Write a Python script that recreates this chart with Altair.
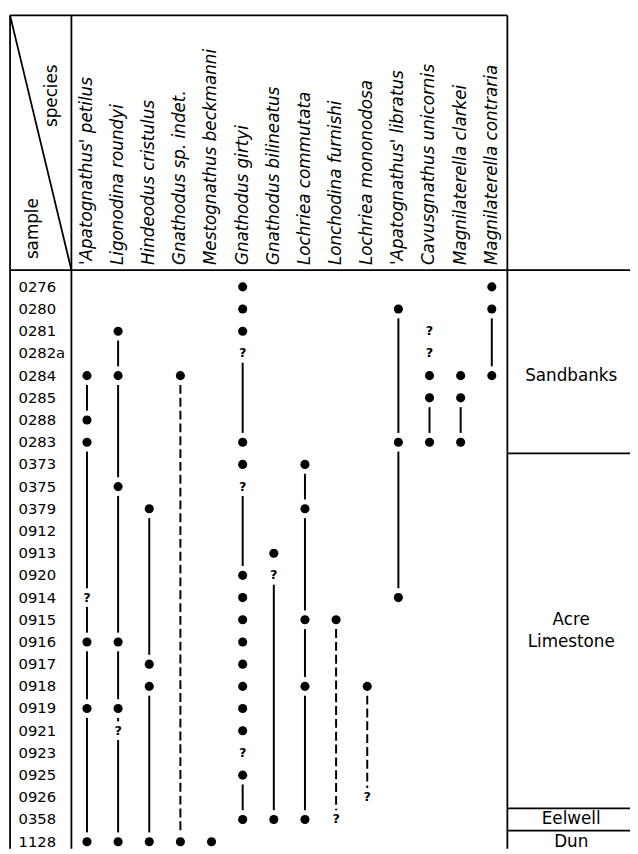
import altair as alt
import pandas as pd

# ---------------- data ----------------
samples = ["0276", "0280", "0281", "0282a", "0284", "0285", "0288", "0283",
           "0373", "0375", "0379", "0912", "0913", "0920", "0914", "0915",
           "0916", "0917", "0918", "0919", "0921", "0923", "0925", "0926",
           "0358", "1128"]

species = ["'Apatognathus' petilus", "Ligonodina roundyi", "Hindeodus cristulus",
           "Gnathodus sp. indet.", "Mestognathus beckmanni", "Gnathodus girtyi",
           "Gnathodus bilineatus", "Lochriea commutata", "Lonchodina furnishi",
           "Lochriea mononodosa", "'Apatognathus' libratus", "Cavusgnathus unicornis",
           "Magnilaterella clarkei", "Magnilaterella contraria"]

# occurrences (filled dots), one list per species
dots = [
    ["0284", "0288", "0283", "0916", "0919", "1128"],
    ["0281", "0284", "0375", "0916", "0919", "1128"],
    ["0379", "0917", "0918", "1128"],
    ["0284", "1128"],
    ["1128"],
    ["0276", "0280", "0281", "0283", "0373", "0920", "0914", "0915", "0916",
     "0917", "0918", "0919", "0921", "0925", "0358"],
    ["0913", "0358"],
    ["0373", "0379", "0915", "0918", "0358"],
    ["0915"],
    ["0918"],
    ["0280", "0283", "0914"],
    ["0284", "0285", "0283"],
    ["0284", "0285", "0283"],
    ["0276", "0280", "0284"],
]

# questionable occurrences ("?"), one list per species
queries = [
    ["0914"], ["0921"], [], [], [], ["0282a", "0375", "0923"], ["0920"], [],
    ["0358"], ["0926"], [], ["0281", "0282a"], [], [],
]

# range segments: species index, from sample, to sample, dashed?
range_species = [0, 0, 0, 0, 0,
                 1, 1, 1, 1, 1, 1,
                 2, 2,
                 3,
                 5, 5, 5,
                 6,
                 7, 7, 7, 7,
                 8,
                 9,
                 10, 10,
                 11,
                 12,
                 13]
range_from = ["0284", "0283", "0914", "0916", "0919",
              "0281", "0284", "0375", "0916", "0919", "0921",
              "0379", "0918",
              "0284",
              "0282a", "0375", "0925",
              "0920",
              "0373", "0379", "0915", "0918",
              "0915",
              "0918",
              "0280", "0283",
              "0285",
              "0285",
              "0280"]
range_to = ["0288", "0914", "0916", "0919", "1128",
            "0284", "0375", "0916", "0919", "0921", "1128",
            "0917", "1128",
            "1128",
            "0283", "0920", "0358",
            "0358",
            "0379", "0915", "0918", "0358",
            "0358",
            "0926",
            "0283", "0914",
            "0283",
            "0283",
            "0284"]
range_dashed = [False] * 13 + [True] + [False] * 8 + [True, True] + [False] * 5

formations = ["Sandbanks", "Acre\nLimestone", "Eelwell", "Dun"]
formation_first = ["0276", "0373", "0358", "1128"]
formation_label_at = ["0284", "0915", "0358", "1128"]

# ---------------- tables ----------------
row = {s: i for i, s in enumerate(samples)}
GAP = 0.42

dot_df = pd.DataFrame([{"sp": i, "row": row[s]} for i, lst in enumerate(dots) for s in lst])
q_df = pd.DataFrame([{"sp": i, "row": row[s], "t": "?"} for i, lst in enumerate(queries) for s in lst])
rng_df = pd.DataFrame({
    "sp": range_species,
    "y1": [row[a] + GAP for a in range_from],
    "y2": [row[b] - GAP for b in range_to],
    "dashed": range_dashed,
})
sample_df = pd.DataFrame({"row": list(range(len(samples))), "label": samples})
species_df = pd.DataFrame({"sp": list(range(len(species))), "name": species})
form_df = pd.DataFrame({"label": formations, "row": [row[s] for s in formation_label_at]})

# table frame (in column / row units)
X_LEFT, X_SAMPLE_R, X_SPECIES_R, X_EDGE = -2.47, -0.5, len(species) - 0.5, 17.438
Y_TOP, Y_HEAD, Y_BOTTOM = -12.23, -0.756, 25.311
frame = [
    (X_LEFT, Y_TOP, X_SPECIES_R, Y_TOP),
    (X_LEFT, Y_HEAD, X_EDGE, Y_HEAD),
    (X_LEFT, Y_TOP, X_LEFT, Y_BOTTOM),
    (X_SAMPLE_R, Y_TOP, X_SAMPLE_R, Y_BOTTOM),
    (X_SPECIES_R, Y_TOP, X_SPECIES_R, Y_BOTTOM),
    (X_LEFT, Y_TOP, X_SAMPLE_R, Y_HEAD),
] + [(X_SPECIES_R, row[s] - 0.5, X_EDGE, row[s] - 0.5) for s in formation_first[1:]]
frame_df = pd.DataFrame(frame, columns=["x", "y", "x2", "y2"])

# ---------------- chart ----------------
xs = alt.Scale(domain=[-2.536, 17.438], nice=False, zero=False)
ys = alt.Scale(domain=[-12.322, 25.311], nice=False, zero=False, reverse=True)
FONT = "DejaVu Sans"


def X(f):
    return alt.X(f, type="quantitative", scale=xs, axis=None)


def Y(f):
    return alt.Y(f, type="quantitative", scale=ys, axis=None)


frame_layer = alt.Chart(frame_df).mark_rule(color="black", strokeWidth=1.8).encode(
    x=X("x"), y=Y("y"), x2="x2", y2="y2")

solid = alt.Chart(rng_df).transform_filter("!datum.dashed").mark_rule(
    color="black", strokeWidth=2).encode(x=X("sp"), y=Y("y1"), y2="y2")
dashed = alt.Chart(rng_df).transform_filter("datum.dashed").mark_rule(
    color="black", strokeWidth=2, strokeDash=[9, 4]).encode(x=X("sp"), y=Y("y1"), y2="y2")

dot_layer = alt.Chart(dot_df).mark_circle(color="black", size=85, opacity=1).encode(
    x=X("sp"), y=Y("row"))

q_layer = alt.Chart(q_df).mark_text(font=FONT, fontSize=13, fontWeight="bold", color="black",
                                    baseline="middle", align="center").encode(
    x=X("sp"), y=Y("row"), text="t:N")

sample_layer = alt.Chart(sample_df).transform_calculate(xx="-2.2").mark_text(
    font=FONT, fontSize=15, color="black", align="left", baseline="middle").encode(
    x=X("xx"), y=Y("row"), text="label:N")

species_layer = alt.Chart(species_df).transform_calculate(yy="-0.98").mark_text(
    font=FONT, fontSize=17, fontStyle="italic", color="black", angle=270,
    align="left", baseline="middle").encode(
    x=X("sp"), y=Y("yy"), text="name:N")

form_layer = alt.Chart(form_df).transform_calculate(xx="15.55").mark_text(
    font=FONT, fontSize=17, color="black", align="center", baseline="middle",
    lineBreak="\n", lineHeight=23).encode(
    x=X("xx"), y=Y("row"), text="label:N")

corner_df = pd.DataFrame({"label": ["species", "sample"], "x": [-1.11, -1.74], "y": [-7.2, -1.25]})
corner_layer = alt.Chart(corner_df).mark_text(
    font=FONT, fontSize=17, color="black", angle=270, align="left", baseline="middle").encode(
    x=X("x"), y=Y("y"), text="label:N")

chart = alt.layer(
    frame_layer, solid, dashed, dot_layer, q_layer, sample_layer,
    species_layer, form_layer, corner_layer,
).properties(
    width=630, height=846, autosize="none", padding=0, background="white"
).configure_view(strokeWidth=0)

chart.save("out.html", embed_options={"renderer": "svg", "actions": False})
